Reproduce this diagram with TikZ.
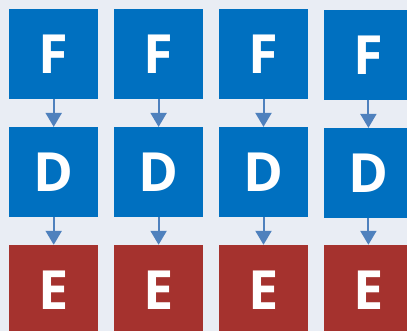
\documentclass[tikz,border=0pt]{standalone}
\usepackage{fontspec}
\setmainfont{Open Sans}
\usepackage{tikz}
\usetikzlibrary{arrows.meta, positioning}
\definecolor{pagebg}{HTML}{E9EDF4}
\definecolor{fetchblue}{HTML}{0070C0}
\definecolor{execred}{HTML}{A5322E}
\definecolor{flowblue}{HTML}{4F81BD}
\tikzset{
    stage/.style={rectangle, draw=none, minimum width=89pt, minimum height=90pt, inner sep=0pt, align=center, text=white, font=\fontsize{54}{54}\selectfont\bfseries},
    bluestage/.style={stage, fill=fetchblue},
    redstage/.style={stage, fill=execred},
    arrow/.style={-{Triangle[length=14pt, width=16pt]}, line width=2pt, draw=flowblue}
}

\begin{document}
\begin{tikzpicture}[node distance=27.5pt and 15.5pt]
        \fill[pagebg] (0,0) rectangle (407pt,-331pt);
        \useasboundingbox (0,0) rectangle (407pt,-331pt);

        \node[bluestage, anchor=north west] (fetch1) at (9pt,-9pt) {F};
        \node[bluestage, right=of fetch1] (fetch2) {F};
        \node[bluestage, right=of fetch2] (fetch3) {F};
        \node[bluestage, right=of fetch3, yshift=-1pt] (fetch4) {F};

        \node[bluestage, below=of fetch1] (decode1) {D};
        \node[bluestage, below=of fetch2] (decode2) {D};
        \node[bluestage, below=of fetch3] (decode3) {D};
        \node[bluestage, below=of fetch4] (decode4) {D};

        \node[redstage, below=of decode1] (exec1) {E};
        \node[redstage, below=of decode2] (exec2) {E};
        \node[redstage, below=of decode3] (exec3) {E};
        \node[redstage, below=of decode4, yshift=1pt] (exec4) {E};

        \draw[arrow] (fetch1) -- (decode1);
        \draw[arrow] (fetch2) -- (decode2);
        \draw[arrow] (fetch3) -- (decode3);
        \draw[arrow] (fetch4) -- (decode4);
        \draw[arrow] (decode1) -- (exec1);
        \draw[arrow] (decode2) -- (exec2);
        \draw[arrow] (decode3) -- (exec3);
        \draw[arrow] (decode4) -- (exec4);
    \end{tikzpicture}
\end{document}
